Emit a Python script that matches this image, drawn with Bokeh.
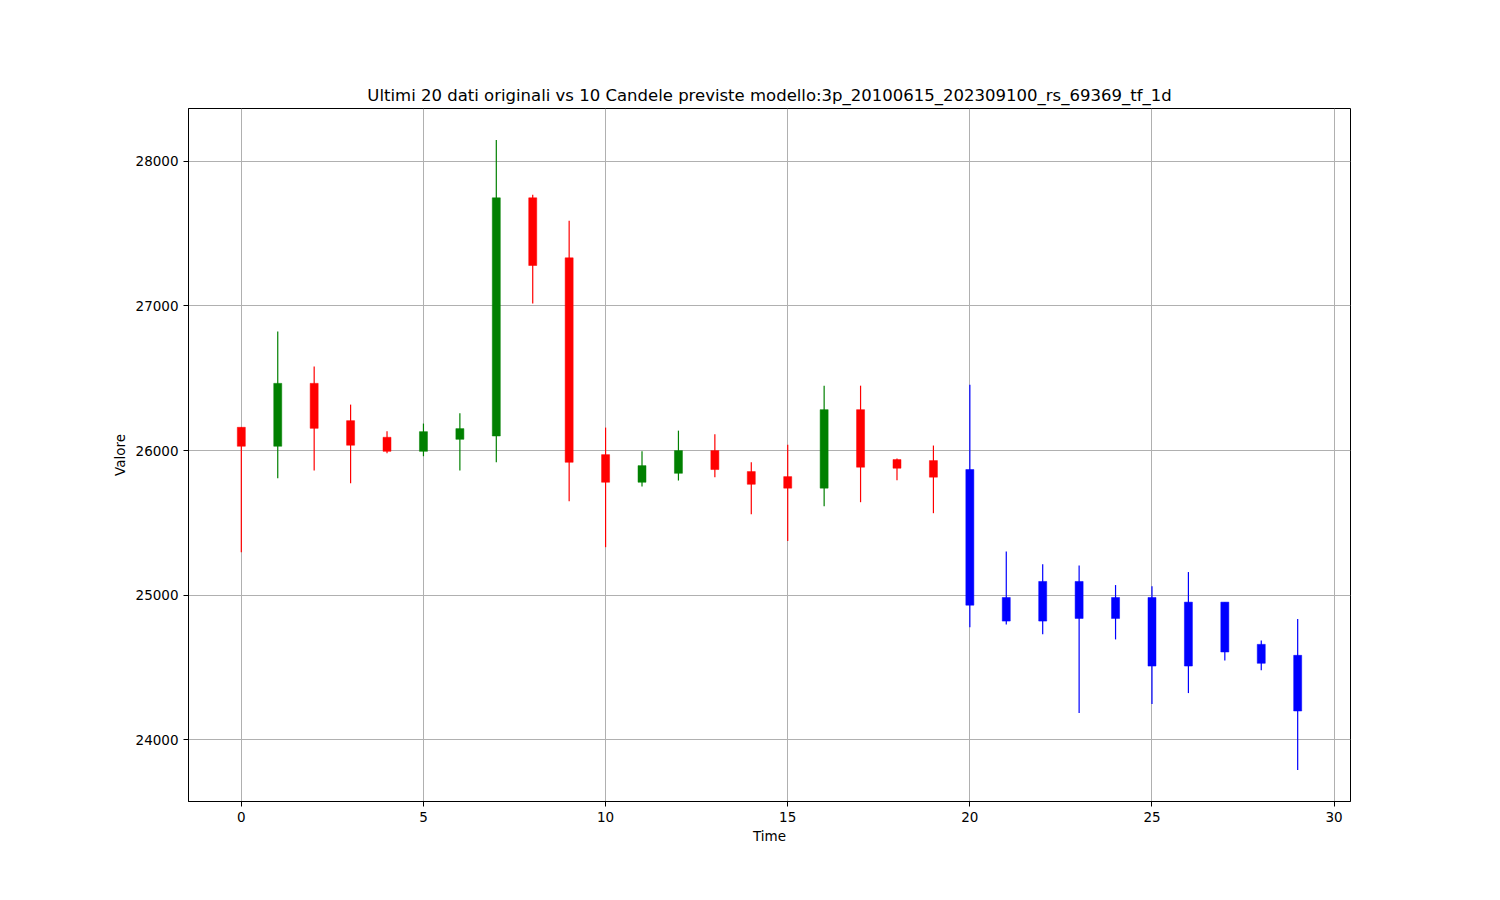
from bokeh.plotting import figure
from bokeh.models import ColumnDataSource, Range1d, FixedTicker
from bokeh.embed import file_html
from bokeh.resources import INLINE

# ---- data ----
times = list(range(30))
opens = [26161, 26030, 26465, 26207, 26092, 25995, 26078, 26101, 27748, 27333,
         25972, 25781, 25843, 26000, 25855, 25820, 25740, 26283, 25938, 25931,
         25869, 24984, 25095, 25095, 24984, 24984, 24952, 24952, 24660, 24584]
closes = [26030, 26465, 26154, 26037, 25995, 26131, 26152, 27748, 27280, 25919,
          25781, 25896, 26000, 25869, 25767, 25740, 26283, 25885, 25878, 25816,
          24931, 24821, 24821, 24839, 24839, 24510, 24510, 24607, 24529, 24199]
highs = [26161, 26824, 26582, 26318, 26133, 26187, 26258, 28148, 27769, 27589,
         26159, 25995, 26138, 26113, 25919, 26041, 26449, 26449, 25945, 26035,
         26456, 25302, 25214, 25206, 25070, 25061, 25160, 24952, 24687, 24835]
lows = [25297, 25809, 25862, 25774, 25981, 25961, 25862, 25919, 27018, 25650,
        25332, 25751, 25793, 25816, 25560, 25374, 25615, 25643, 25795, 25567,
        24779, 24798, 24729, 24185, 24694, 24247, 24323, 24549, 24480, 23791]
n_original = 20
x_ticks = [0, 5, 10, 15, 20, 25, 30]
y_ticks = [24000, 25000, 26000, 27000, 28000]
title_text = "Ultimi 20 dati originali vs 10 Candele previste modello:3p_20100615_202309100_rs_69369_tf_1d"

colors = []
for i in times:
    if i >= n_original:
        colors.append("blue")
    elif closes[i] >= opens[i]:
        colors.append("green")
    else:
        colors.append("red")

src = ColumnDataSource(dict(
    t=times, high=highs, low=lows,
    top=[max(o, c) for o, c in zip(opens, closes)],
    bottom=[min(o, c) for o, c in zip(opens, closes)],
    color=colors,
))

ymin, ymax = min(lows), max(highs)
ypad = (ymax - ymin) * 0.05
xpad = (times[-1] - times[0]) * 0.05

FONT = "DejaVu Sans"

p = figure(width=1484, height=884, output_backend="svg", toolbar_location=None,
           x_range=Range1d(times[0] - xpad, times[-1] + xpad),
           y_range=Range1d(ymin - ypad, ymax + ypad),
           title=title_text,
           min_border_left=188, min_border_right=134,
           min_border_top=108, min_border_bottom=83)

p.title.align = "center"
p.title.text_font = FONT
p.title.text_font_style = "normal"
p.title.text_font_size = "16.5px"
p.title.text_color = "black"
p.title.standoff = 7

p.segment(x0="t", y0="low", x1="t", y1="high", color="color", line_width=1.2, source=src)
p.vbar(x="t", width=0.22, top="top", bottom="bottom", fill_color="color",
       line_color="color", line_width=0.5, source=src)

p.xaxis.ticker = FixedTicker(ticks=x_ticks)
p.yaxis.ticker = FixedTicker(ticks=y_ticks)
p.xaxis.axis_label = "Time"
p.yaxis.axis_label = "Valore"
for ax in (p.xaxis[0], p.yaxis[0]):
    ax.axis_label_text_font = FONT
    ax.axis_label_text_font_style = "normal"
    ax.axis_label_text_font_size = "13.5px"
    ax.axis_label_text_color = "black"
    ax.major_label_text_font = FONT
    ax.major_label_text_font_size = "13.5px"
    ax.major_label_text_color = "black"
    ax.minor_tick_line_color = None
    ax.major_tick_out = 5
    ax.major_tick_in = 0
    ax.major_tick_line_color = "black"
    ax.axis_line_color = "black"
p.yaxis.major_label_orientation = "horizontal"
p.yaxis.axis_label_standoff = 5
p.xaxis.axis_label_standoff = 3

p.grid.grid_line_color = "#b0b0b0"
p.grid.grid_line_width = 1
p.outline_line_color = "black"
p.outline_line_alpha = 1
p.outline_line_width = 1
p.background_fill_color = "white"
p.border_fill_color = "white"

open("out.html", "w").write(file_html(p, INLINE))
